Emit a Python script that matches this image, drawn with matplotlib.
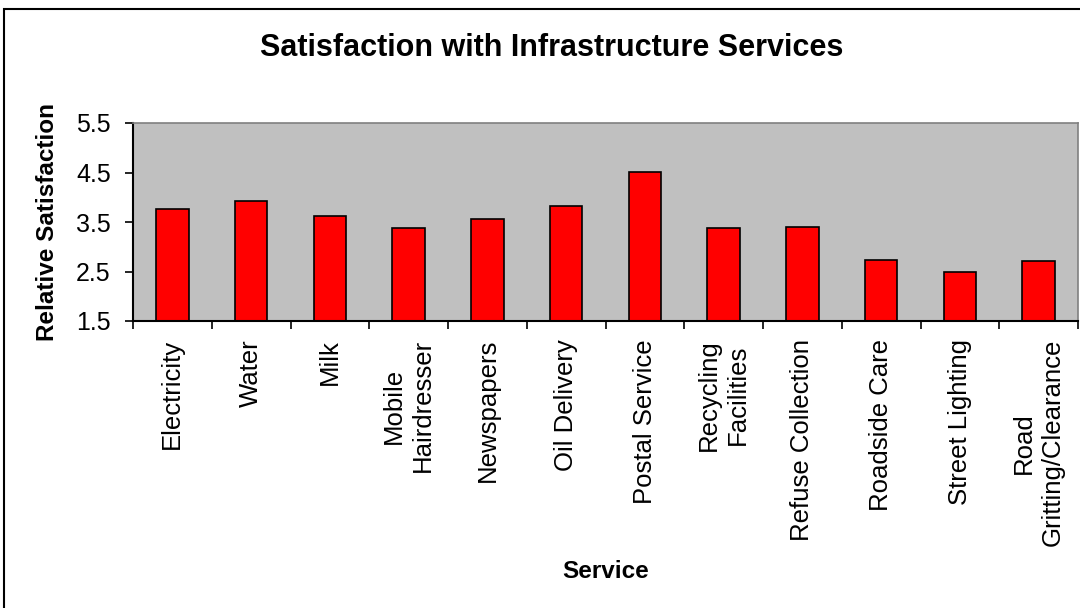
import matplotlib
matplotlib.use("Agg")
import matplotlib.pyplot as plt
from matplotlib.patches import Rectangle

plt.rcParams['font.family'] = ['Liberation Sans', 'DejaVu Sans']

# Data
services = ["Electricity", "Water", "Milk", "Mobile\nHairdresser", "Newspapers",
            "Oil Delivery", "Postal Service", "Recycling\nFacilities",
            "Refuse Collection", "Roadside Care", "Street Lighting",
            "Road\nGritting/Clearance"]
satisfaction = [3.76, 3.92, 3.62, 3.37, 3.56, 3.82, 4.51, 3.37, 3.40, 2.74, 2.50, 2.71]
yticks = [1.5, 2.5, 3.5, 4.5, 5.5]

fig = plt.figure(figsize=(10.8, 6.08), dpi=100)
ax = fig.add_axes([133/1080, 1-321/608, 945/1080, 198/608])

# chart-area border
fig.patches.append(Rectangle((4/1080, -0.1), 1.2, 1.1 - 9/608, transform=fig.transFigure,
                             fill=False, edgecolor="black", linewidth=1.5))

x = range(len(services))
ax.bar(x, satisfaction, width=0.41, color="#FF0000", edgecolor="black", linewidth=1.2)
ax.set_facecolor("#C0C0C0")
ax.set_xlim(-0.5, len(services) - 0.5)
ax.set_ylim(1.5, 5.5)
ax.set_yticks(yticks)
ax.set_yticklabels([str(v) for v in yticks], fontsize=18)

# boundary ticks between categories, labels centred on bars
ax.set_xticks([i + 0.5 for i in range(-1, len(services))])
ax.set_xticklabels([])
ax.set_xticks(list(x), minor=True)
ax.set_xticklabels(services, minor=True, rotation=90, fontsize=18.5,
                   va="top", ha="center", multialignment="center", linespacing=1.25)
ax.tick_params(axis="x", which="minor", length=0, pad=13)
ax.tick_params(axis="x", which="major", length=6, width=1.2, direction="out")
ax.tick_params(axis="y", length=6, width=1.2, direction="out", pad=10)

for s in ["top", "right"]:
    ax.spines[s].set_color("#808080")
    ax.spines[s].set_linewidth(1.2)
for s in ["left", "bottom"]:
    ax.spines[s].set_color("black")
    ax.spines[s].set_linewidth(1.5)

ax.set_ylabel("Relative Satisfaction", fontsize=17.5, fontweight="bold", va="center")
ax.yaxis.set_label_coords(-0.09, 0.5)
ax.set_xlabel("Service", fontsize=17.5, fontweight="bold", va="center")
ax.xaxis.set_label_coords(0.5, -1.263)

fig.text(552/1080, 1-48/608, "Satisfaction with Infrastructure Services",
         fontsize=22, fontweight="bold", ha="center", va="center")

fig.savefig("out.png", dpi=100)
